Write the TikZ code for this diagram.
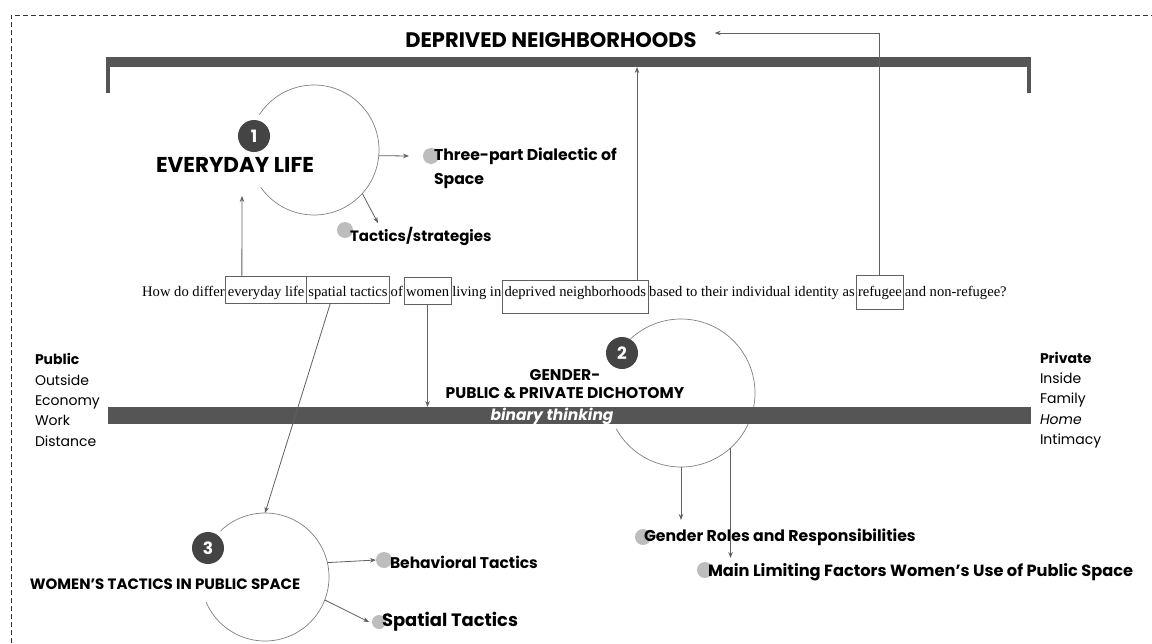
\documentclass[tikz,border=0pt]{standalone}
\usepackage{fontspec}
\setmainfont{Poppins}
\newfontfamily\qfont{Liberation Serif}
\usetikzlibrary{positioning,calc,arrows.meta}
\definecolor{bardark}{HTML}{555555}
\definecolor{ringgray}{HTML}{808080}
\definecolor{linkgray}{HTML}{606060}
\definecolor{dotgray}{HTML}{BDBDBD}
\definecolor{badgefill}{HTML}{444444}
\newcommand{\fsz}[2]{\fontsize{#1}{#2}\selectfont}
\tikzstyle{concept map}=[
    x=1pt, y=1pt, >={Stealth[length=6pt,width=4.5pt]},
    every node/.style={inner sep=0pt, outer sep=0pt},
]
\tikzstyle{ring}=[circle, draw=none]
\tikzstyle{ringline}=[draw=ringgray, line width=0.7pt]
\tikzstyle{badge}=[circle, fill=badgefill, text=white, minimum size=32pt, font=\bfseries\fsz{17}{17}]
\tikzstyle{dot}=[circle, fill=dotgray, minimum size=16pt]
\tikzstyle{item}=[font=\bfseries\fsz{15.7}{24}, align=left]
\tikzstyle{ringtitle}=[font=\bfseries\fsz{21}{21}, align=center]
\tikzstyle{side}=[font=\fsz{14}{20.3}, align=left, anchor=west]
\tikzstyle{bar}=[fill=bardark]
\tikzstyle{link}=[draw=linkgray, line width=0.8pt, ->]
\tikzstyle{qword}=[font=\qfont\fsz{14.6}{14.6}, inner xsep=1.2pt]
\tikzstyle{qbox}=[qword, draw=linkgray, line width=0.8pt, inner xsep=2pt, inner ysep=3pt, text height=17pt, text depth=4pt]
\tikzstyle{frame}=[draw=black!80, line width=0.9pt, dash pattern=on 5pt off 3pt]

\begin{document}
\begin{tikzpicture}[concept map]
    \useasboundingbox (0,0) rectangle (1152,-643);
    \draw[frame] (11,-643) |- (1152,-15);

    \node[ringtitle] (title) at (551,-40) {DEPRIVED NEIGHBORHOODS};

    % question
    \node[qword, anchor=base west] (q0) at (141,-296) {How do differ};
    \node[qbox, base right=0pt of q0] (qlife) {everyday life};
    \node[qbox, base right=0pt of qlife] (qspatial) {spatial tactics};
    \node[qword, base right=0pt of qspatial] (q1) {of};
    \node[qbox, base right=0pt of q1, text height=16pt, text depth=5pt] (qwomen) {women};
    \node[qword, base right=0pt of qwomen] (q2) {living in};
    \node[qbox, base right=0pt of q2, text height=13pt, text depth=14pt] (qdeprived) {deprived neighborhoods};
    \node[qword, base right=0pt of qdeprived] (q3) {based to their individual identity as};
    \node[qbox, base right=0pt of q3, text height=18pt, text depth=10pt] (qrefugee) {refugee};
    \node[qword, base right=0pt of qrefugee] (q4) {and non-refugee?};

    % rings
    \node[ring, minimum size=130pt] (ring1) at (314,-150) {};
    \node[ring, minimum size=148pt] (ring2) at (681,-393) {};
    \node[ring, minimum size=128pt] (ring3) at (265,-577) {};
    \draw[ringline] (ring1.215) arc[start angle=215, end angle=507, radius=65];
    \draw[ringline] (ring2.209) arc[start angle=209, end angle=493, radius=74];
    \draw[ringline] (ring3.203) arc[start angle=203, end angle=494, radius=64];

    \node[badge] (badge1) at (254,-136) {1};
    \node[badge] (badge2) at (622,-353) {2};
    \node[badge] (badge3) at (208,-548) {3};
    \node[ringtitle, font=\bfseries\fsz{21.5}{21.5}] (life) at (235,-165) {EVERYDAY LIFE};
    \node[ringtitle, font=\bfseries\fsz{15.5}{18}] (gender) at (565,-384) {GENDER-\\PUBLIC \& PRIVATE DICHOTOMY};
    \node[ringtitle, font=\bfseries\fsz{15}{15}] (womtac) at (165,-584) {WOMEN’S TACTICS IN PUBLIC SPACE};

    % bars
    \node[bar, minimum width=925pt, minimum height=10pt] (topbar) at (568.5,-62) {};
    \fill[bardark] (topbar.south west) rectangle ++(4,-26);
    \fill[bardark] (topbar.south east) rectangle ++(-4,-26);
    \node[bar, minimum width=923pt, minimum height=17pt] (midbar) at (569.5,-415.5) {};
    \node[font=\bfseries\itshape\fsz{15.5}{15.5}, text=white] (binary) at (552,-416) {binary thinking};

    % items
    \node[dot] (dotdial) at (431,-156) {};
    \node[item, right=-5pt of dotdial, yshift=-12pt] (dialectic) {Three-part Dialectic of\\Space};
    \node[dot] (dottac) at (345,-230) {};
    \node[item, font=\bfseries\fsz{15}{15}, right=-3pt of dottac, yshift=-6pt] (tactics) {Tactics/strategies};
    \node[dot] (dotroles) at (643,-537) {};
    \node[item, right=-7pt of dotroles] (roles) {Gender Roles and Responsibilities};
    \node[dot] (dotmain) at (705,-570) {};
    \node[item, font=\bfseries\fsz{16.2}{16.2}, right=-5pt of dotmain, yshift=-2pt] (limiting) {Main Limiting Factors Women’s Use of Public Space};
    \node[dot] (dotbehav) at (384,-560) {};
    \node[item, font=\bfseries\fsz{15.5}{15.5}, right=-2pt of dotbehav, yshift=-2pt] (behav) {Behavioral Tactics};
    \node[dot, minimum size=14pt] (dotspat) at (379,-622) {};
    \node[item, font=\bfseries\fsz{17.9}{17.9}, right=-4pt of dotspat] (spatial) {Spatial Tactics};

    \node[side] (public) at (35,-400) {\textbf{Public}\\Outside\\Economy\\Work\\Distance};
    \node[side] (private) at (1040,-400) {\textbf{Private}\\Inside\\Family\\\textit{Home}\\Intimacy};

    % connectors
    \coordinate (lifetip) at (242,-196);
    \draw[link] ([xshift=16pt]qlife.north west) -- (lifetip);
    \draw[link] ([xshift=24pt]qspatial.south west) -- (ring3.north);
    \draw[link] (qwomen.south) -- (qwomen.south |- midbar.north);
    \draw[link] ([xshift=-11pt]qdeprived.north east) -- ([xshift=-11pt]qdeprived.north east |- topbar.south);
    \draw[link] (qrefugee.north) |- ([xshift=18pt,yshift=7pt]title.east);
    \draw[link] (ring1.-5) -- ([xshift=-14pt]dotdial.west);
    \draw[link] (ring1.-42) -- ($(dottac)+(33,7)$);
    \draw[link] (ring2.south) -- ($(ring2.south |- dotroles)+(0,17)$);
    \draw[link] (ring2.-48) -- ($(ring2.-48 |- dotmain)+(0,12)$);
    \draw[link] (ring3.13) -- (dotbehav.west);
    \draw[link] (ring3.-21) -- ([xshift=-3pt]dotspat.west);
\end{tikzpicture}
\end{document}
